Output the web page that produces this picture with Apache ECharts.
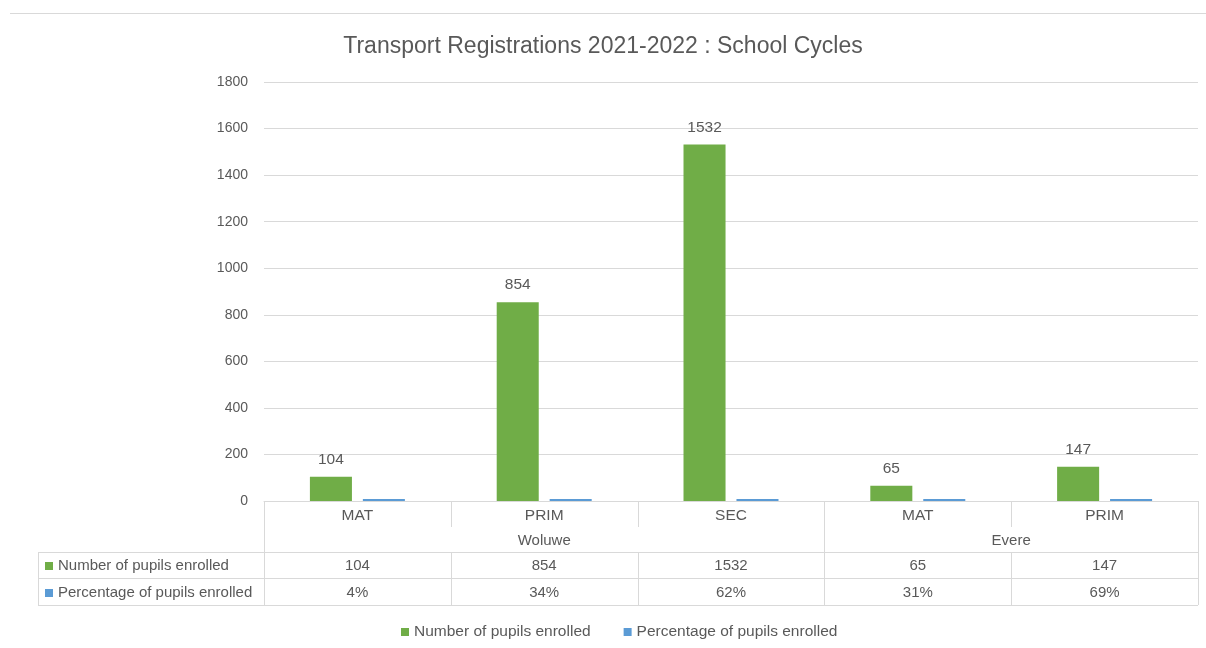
<!DOCTYPE html>
<html>
<head>
<meta charset="utf-8">
<script src="https://cdn.jsdelivr.net/npm/echarts@6/dist/echarts.min.js"></script>
<style>
  html, body { margin: 0; padding: 0; background: #fff; }
  #chart { width: 1206px; height: 648px; }
</style>
</head>
<body>
<div id="chart"></div>
<script>
const categories = ['MAT', 'PRIM', 'SEC', 'MAT', 'PRIM'];
const groupNames = ['Woluwe', 'Evere'];
const groupSizes = [3, 2];
const pupils = [104, 854, 1532, 65, 147];
const percents = [4, 34, 62, 31, 69];
const seriesNames = ['Number of pupils enrolled', 'Percentage of pupils enrolled'];
const colors = ['#70AD47', '#5B9BD5'];

const FONT = 'Liberation Sans';
const TXT = '#595959';
const LINE = '#d9d9d9';

const chart = echarts.init(document.getElementById('chart'));

chart.setOption({
  animation: false,
  textStyle: { fontFamily: FONT },
  title: {
    text: 'Transport Registrations 2021-2022 : School Cycles',
    left: 'center',
    top: 30,
    textStyle: { fontFamily: FONT, fontSize: 23, fontWeight: 'normal', color: '#595959' }
  },
  legend: {
    bottom: 3,
    left: 396,
    itemWidth: 8,
    itemHeight: 8,
    itemGap: 33,
    icon: 'rect',
    textStyle: { fontFamily: FONT, fontSize: 15.5, color: TXT },
    data: seriesNames
  },
  grid: { left: 264, right: 8, top: 82, bottom: 147, containLabel: false },
  xAxis: {
    type: 'category',
    data: categories,
    axisLine: { lineStyle: { color: LINE } },
    axisTick: { show: false },
    axisLabel: { color: TXT, fontSize: 15.5, margin: 7 }
  },
  yAxis: {
    type: 'value',
    min: 0,
    max: 1800,
    interval: 200,
    axisLine: { show: false },
    axisTick: { show: false },
    axisLabel: { color: TXT, fontSize: 14, margin: 16, formatter: v => String(v) },
    splitLine: { lineStyle: { color: LINE } }
  },
  series: [
    {
      name: seriesNames[0],
      type: 'bar',
      data: pupils,
      barWidth: '22.5%',
      barGap: '26%',
      itemStyle: { color: colors[0] },
      label: { show: true, position: 'top', distance: 9, color: TXT, fontSize: 15.5 }
    },
    {
      name: seriesNames[1],
      type: 'bar',
      data: percents.map(p => p / 100),
      barWidth: '22.5%',
      barMinHeight: 2,
      itemStyle: { color: colors[1] }
    }
  ]
});

// data table under the axis, placed from the axis scale
function drawTable() {
  const x0 = chart.convertToPixel({ xAxisIndex: 0 }, 0);
  const x1 = chart.convertToPixel({ xAxisIndex: 0 }, 1);
  const band = x1 - x0;
  const y0 = chart.convertToPixel({ yAxisIndex: 0 }, 0);
  const bounds = categories.map((c, i) => x0 - band / 2 + i * band);
  bounds.push(x0 - band / 2 + categories.length * band);
  const right = bounds[bounds.length - 1];
  const tableLeft = 38;
  const rowGroup = 51, rowA = 77, rowB = 104;

  const els = [];
  const line = (xa, ya, xb, yb) => els.push({
    type: 'line', silent: true,
    shape: { x1: xa, y1: ya, x2: xb, y2: yb },
    style: { stroke: LINE, lineWidth: 1 }
  });
  const text = (x, y, s, align) => els.push({
    type: 'text', silent: true,
    style: { x: x, y: y, text: s, fill: TXT, font: '15px "' + FONT + '"', align: align || 'center', verticalAlign: 'middle' }
  });

  // group edges
  const groupEdges = [0];
  groupSizes.forEach(n => groupEdges.push(groupEdges[groupEdges.length - 1] + n));

  // horizontal lines
  [rowGroup, rowA, rowB].forEach(dy => line(tableLeft, y0 + dy + 0.5, right, y0 + dy + 0.5));

  // vertical lines
  bounds.forEach((bx, i) => {
    const x = Math.round(bx) + 0.5;
    if (groupEdges.indexOf(i) >= 0) {
      line(x, y0, x, y0 + rowB);
    } else {
      line(x, y0, x, y0 + 26);
      line(x, y0 + rowGroup, x, y0 + rowB);
    }
  });
  line(tableLeft + 0.5, y0 + rowGroup, tableLeft + 0.5, y0 + rowB);

  // group names
  groupNames.forEach((g, k) => {
    const cx = (bounds[groupEdges[k]] + bounds[groupEdges[k + 1]]) / 2;
    text(cx, y0 + 40, g);
  });

  // rows
  const rows = [pupils.map(String), percents.map(p => p + '%')];
  const rowY = [y0 + 65, y0 + 92];
  rows.forEach((vals, r) => {
    els.push({
      type: 'rect', silent: true,
      shape: { x: 45, y: rowY[r] - 4, width: 8, height: 8 },
      style: { fill: colors[r] }
    });
    text(58, rowY[r], seriesNames[r], 'left');
    vals.forEach((v, i) => text(bounds[i] + band / 2, rowY[r], v));
  });

  // sheet border line at top
  line(10, 13.5, 1206, 13.5);

  chart.setOption({ graphic: { elements: els } });
}
drawTable();
</script>
</body>
</html>
